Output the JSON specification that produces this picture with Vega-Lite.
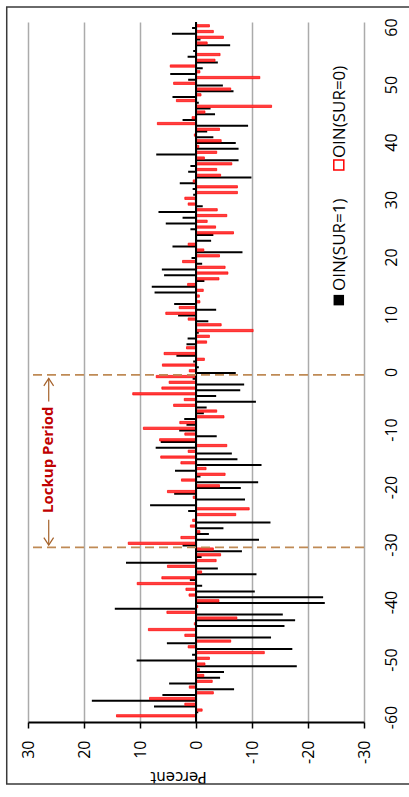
{
  "$schema": "https://vega.github.io/schema/vega-lite/v6.json",
  "width": 336,
  "height": 700,
  "autosize": {"type": "none"},
  "padding": {"left": 28, "top": 22, "right": 45, "bottom": 75},
  "background": "white",
  "config": {"view": {"stroke": null}, "font": "Open Sans"},
  "datasets": {
    "oin": [
      {"day": 60, "SUR1": 0.7, "SUR0": -2.4},
      {"day": 59, "SUR1": 4.3, "SUR0": -3.1},
      {"day": 58, "SUR1": -0.8, "SUR0": -4.9},
      {"day": 57, "SUR1": -6.1, "SUR0": -2.0},
      {"day": 56, "SUR1": 0.5, "SUR0": 0.0},
      {"day": 55, "SUR1": 1.5, "SUR0": -4.3},
      {"day": 54, "SUR1": -3.9, "SUR0": -3.4},
      {"day": 53, "SUR1": -1.2, "SUR0": 4.6},
      {"day": 52, "SUR1": 4.6, "SUR0": -0.7},
      {"day": 51, "SUR1": 1.4, "SUR0": -11.4},
      {"day": 50, "SUR1": -4.8, "SUR0": 4.0},
      {"day": 49, "SUR1": -6.7, "SUR0": -6.2},
      {"day": 48, "SUR1": 4.2, "SUR0": -0.9},
      {"day": 47, "SUR1": -0.5, "SUR0": 3.5},
      {"day": 46, "SUR1": -2.6, "SUR0": -13.5},
      {"day": 45, "SUR1": -3.4, "SUR0": -1.6},
      {"day": 44, "SUR1": 2.4, "SUR0": 0.7},
      {"day": 43, "SUR1": -9.3, "SUR0": 6.9},
      {"day": 42, "SUR1": -2.0, "SUR0": -4.2},
      {"day": 41, "SUR1": -3.1, "SUR0": 0.3},
      {"day": 40, "SUR1": -7.1, "SUR0": -4.5},
      {"day": 39, "SUR1": -7.6, "SUR0": -0.5},
      {"day": 38, "SUR1": 7.1, "SUR0": -3.7},
      {"day": 37, "SUR1": -7.6, "SUR0": -1.5},
      {"day": 36, "SUR1": 1.0, "SUR0": -6.4},
      {"day": 35, "SUR1": 1.4, "SUR0": -3.7},
      {"day": 34, "SUR1": -9.9, "SUR0": -4.4},
      {"day": 33, "SUR1": 2.9, "SUR0": 0.5},
      {"day": 32, "SUR1": 0.6, "SUR0": -7.4},
      {"day": 31, "SUR1": 0.5, "SUR0": -7.4},
      {"day": 30, "SUR1": 0.2, "SUR0": 2.0},
      {"day": 29, "SUR1": -1.2, "SUR0": 1.4},
      {"day": 28, "SUR1": 6.7, "SUR0": -3.8},
      {"day": 27, "SUR1": 2.4, "SUR0": -5.5},
      {"day": 26, "SUR1": 5.4, "SUR0": -2.0},
      {"day": 25, "SUR1": 1.0, "SUR0": -3.5},
      {"day": 24, "SUR1": -3.1, "SUR0": -6.7},
      {"day": 23, "SUR1": -2.7, "SUR0": 0.0},
      {"day": 22, "SUR1": 4.2, "SUR0": 1.4},
      {"day": 21, "SUR1": -8.3, "SUR0": -1.4},
      {"day": 20, "SUR1": 0.8, "SUR0": -4.2},
      {"day": 19, "SUR1": -1.1, "SUR0": 2.4},
      {"day": 18, "SUR1": 6.1, "SUR0": -5.2},
      {"day": 17, "SUR1": 5.7, "SUR0": -5.7},
      {"day": 16, "SUR1": -1.5, "SUR0": -4.1},
      {"day": 15, "SUR1": 7.9, "SUR0": 1.5},
      {"day": 14, "SUR1": 7.4, "SUR0": -1.3},
      {"day": 13, "SUR1": 0.0, "SUR0": -0.6},
      {"day": 12, "SUR1": 3.9, "SUR0": -0.7},
      {"day": 11, "SUR1": -3.6, "SUR0": 3.0},
      {"day": 10, "SUR1": 3.2, "SUR0": 5.4},
      {"day": 9, "SUR1": -2.2, "SUR0": 1.4},
      {"day": 8, "SUR1": 0.0, "SUR0": -4.5},
      {"day": 7, "SUR1": -0.5, "SUR0": -10.2},
      {"day": 6, "SUR1": 1.5, "SUR0": -2.4},
      {"day": 5, "SUR1": 1.7, "SUR0": -1.9},
      {"day": 4, "SUR1": 0.0, "SUR0": 1.7},
      {"day": 3, "SUR1": 3.5, "SUR0": 5.7},
      {"day": 2, "SUR1": 0.5, "SUR0": -1.5},
      {"day": 1, "SUR1": -0.5, "SUR0": 6.0},
      {"day": 0, "SUR1": -7.1, "SUR0": 1.2},
      {"day": -1, "SUR1": 0.6, "SUR0": 7.1},
      {"day": -2, "SUR1": -8.6, "SUR0": 4.8},
      {"day": -3, "SUR1": -7.9, "SUR0": 6.1},
      {"day": -4, "SUR1": -3.6, "SUR0": 11.3},
      {"day": -5, "SUR1": -10.7, "SUR0": 2.1},
      {"day": -6, "SUR1": -1.9, "SUR0": 4.0},
      {"day": -7, "SUR1": -1.4, "SUR0": -3.7},
      {"day": -8, "SUR1": 2.1, "SUR0": -5.0},
      {"day": -9, "SUR1": 1.7, "SUR0": 2.9},
      {"day": -10, "SUR1": 3.0, "SUR0": 9.4},
      {"day": -11, "SUR1": -3.7, "SUR0": 2.0},
      {"day": -12, "SUR1": 6.3, "SUR0": 6.5},
      {"day": -13, "SUR1": 7.2, "SUR0": -5.5},
      {"day": -14, "SUR1": -6.4, "SUR0": 1.4},
      {"day": -15, "SUR1": -7.4, "SUR0": 6.3},
      {"day": -16, "SUR1": -11.7, "SUR0": 2.7},
      {"day": -17, "SUR1": 3.75, "SUR0": -1.8},
      {"day": -18, "SUR1": -0.8, "SUR0": -5.2},
      {"day": -19, "SUR1": -11.1, "SUR0": 2.6},
      {"day": -20, "SUR1": -8.0, "SUR0": -4.2},
      {"day": -21, "SUR1": 3.9, "SUR0": 5.1},
      {"day": -22, "SUR1": -8.75, "SUR0": 0.5},
      {"day": -23, "SUR1": 8.2, "SUR0": 0.0},
      {"day": -24, "SUR1": 1.4, "SUR0": -9.5},
      {"day": -25, "SUR1": 0.0, "SUR0": -7.1},
      {"day": -26, "SUR1": -13.3, "SUR0": 0.6},
      {"day": -27, "SUR1": -4.9, "SUR0": 1.0},
      {"day": -28, "SUR1": -2.3, "SUR0": -0.7},
      {"day": -29, "SUR1": -11.25, "SUR0": 2.7},
      {"day": -30, "SUR1": 2.4, "SUR0": 12.1},
      {"day": -31, "SUR1": -8.2, "SUR0": -3.1},
      {"day": -32, "SUR1": -1.0, "SUR0": -4.4},
      {"day": -33, "SUR1": 12.5, "SUR0": -3.6},
      {"day": -34, "SUR1": -3.9, "SUR0": 5.1},
      {"day": -35, "SUR1": -10.8, "SUR0": -1.0},
      {"day": -36, "SUR1": 1.1, "SUR0": 6.1},
      {"day": -37, "SUR1": -1.1, "SUR0": 10.5},
      {"day": -38, "SUR1": -10.5, "SUR0": 1.8},
      {"day": -39, "SUR1": -22.7, "SUR0": 1.25},
      {"day": -40, "SUR1": -23.0, "SUR0": -4.1},
      {"day": -41, "SUR1": 14.5, "SUR0": -0.3},
      {"day": -42, "SUR1": -15.5, "SUR0": 5.2},
      {"day": -43, "SUR1": -17.7, "SUR0": -7.3},
      {"day": -44, "SUR1": -15.8, "SUR0": 0.3},
      {"day": -45, "SUR1": 0.0, "SUR0": 8.5},
      {"day": -46, "SUR1": -13.4, "SUR0": 2.0},
      {"day": -47, "SUR1": 5.2, "SUR0": -6.2},
      {"day": -48, "SUR1": -17.2, "SUR0": 1.4},
      {"day": -49, "SUR1": 0.7, "SUR0": -12.2},
      {"day": -50, "SUR1": 10.6, "SUR0": -2.4},
      {"day": -51, "SUR1": -18.0, "SUR0": -1.6},
      {"day": -52, "SUR1": -5.0, "SUR0": -0.6},
      {"day": -53, "SUR1": -4.3, "SUR0": -1.4},
      {"day": -54, "SUR1": 4.8, "SUR0": -2.9},
      {"day": -55, "SUR1": -6.8, "SUR0": 1.2},
      {"day": -56, "SUR1": 6.0, "SUR0": -3.1},
      {"day": -57, "SUR1": 18.6, "SUR0": 8.3},
      {"day": -58, "SUR1": 7.5, "SUR0": 2.0},
      {"day": -59, "SUR1": -0.4, "SUR0": -1.1},
      {"day": -60, "SUR1": 0.0, "SUR0": 14.2}
    ]
  },
  "layer": [
    {
      "data": {"name": "oin"},
      "mark": {"type": "bar", "orient": "horizontal", "height": 2, "yOffset": 1, "color": "#000000"},
      "encoding": {
        "y": {
          "field": "day", "type": "quantitative",
          "scale": {"domain": [-60, 60], "nice": false, "zero": false},
          "axis": {
            "orient": "right", "title": null,
            "values": [-60, -50, -40, -30, -20, -10, 0, 10, 20, 30, 40, 50, 60],
            "grid": false, "domain": false, "ticks": false, "tickSize": 0,
            "labelAngle": -90, "labelAlign": "center", "labelBaseline": "top",
            "labelPadding": 19, "labelFontSize": 16, "labelFont": "Open Sans", "labelColor": "#000000",
            "labelExpr": "'' + datum.value", "labelFlush": false, "labelOverlap": false, "labelBound": false
          }
        },
        "x": {
          "field": "SUR1", "type": "quantitative",
          "scale": {"domain": [-30, 30], "reverse": true, "nice": false, "zero": true},
          "axis": {
            "orient": "bottom", "title": "Percent",
            "values": [-30, -20, -10, 0, 10, 20, 30],
            "grid": true, "gridColor": "#ABABAB", "gridWidth": 1.5,
            "domain": true, "domainColor": "#000000", "domainWidth": 2,
            "ticks": true, "tickColor": "#000000", "tickWidth": 1.5, "tickSize": 6,
            "labelAngle": -90, "labelAlign": "right", "labelBaseline": "middle",
            "labelPadding": 12, "labelFontSize": 16, "labelFont": "Open Sans", "labelColor": "#000000",
            "labelExpr": "'' + datum.value", "labelFlush": false, "labelOverlap": false, "labelBound": false,
            "titleAngle": 180, "titleFont": "DejaVu Sans", "titleFontSize": 15, "titleFontWeight": "normal",
            "titleColor": "#000000", "titleX": 150, "titleY": 54, "titleAlign": "center", "titleBaseline": "middle"
          }
        }
      }
    },
    {
      "data": {"name": "oin"},
      "mark": {"type": "bar", "orient": "horizontal", "height": 2.3, "yOffset": -1.2, "fill": "#FF4040", "stroke": "#FF0000", "strokeWidth": 0.7},
      "encoding": {
        "y": {"field": "day", "type": "quantitative"},
        "x": {"field": "SUR0", "type": "quantitative"}
      }
    },
    {
      "data": {"values": [{}]},
      "mark": {"type": "rule", "color": "#000000", "strokeWidth": 2},
      "encoding": {"x": {"datum": 0, "type": "quantitative"}}
    },
    {
      "data": {"values": [{}]},
      "mark": {"type": "rule", "color": "#BF8A55", "strokeWidth": 1.7, "strokeDash": [9, 5]},
      "encoding": {"y": {"datum": -0.5, "type": "quantitative"}}
    },
    {
      "data": {"values": [{}]},
      "mark": {"type": "rule", "color": "#BF8A55", "strokeWidth": 1.7, "strokeDash": [9, 5]},
      "encoding": {"y": {"datum": -30.5, "type": "quantitative"}}
    },
    {
      "data": {"values": [{}]},
      "mark": {"type": "rule", "color": "#A5622B", "strokeWidth": 1.2},
      "encoding": {"x": {"datum": 26.3, "type": "quantitative"}, "y": {"datum": -1.1, "type": "quantitative"}, "y2": {"datum": -5.15}}
    },
    {
      "data": {"values": [{}]},
      "mark": {"type": "rule", "color": "#A5622B", "strokeWidth": 1.2},
      "encoding": {"x": {"datum": 26.3, "type": "quantitative"}, "y": {"datum": -25.71, "type": "quantitative"}, "y2": {"datum": -30.1}}
    },
    {
      "data": {"values": [{}]},
      "mark": {"type": "point", "shape": "M-0.65,1L0,0L0.65,1", "filled": false, "stroke": "#A5622B", "strokeWidth": 1.2, "size": 225, "opacity": 1},
      "encoding": {"x": {"datum": 26.3, "type": "quantitative"}, "y": {"datum": -1.1, "type": "quantitative"}}
    },
    {
      "data": {"values": [{}]},
      "mark": {"type": "point", "shape": "M-0.65,-1L0,0L0.65,-1", "filled": false, "stroke": "#A5622B", "strokeWidth": 1.2, "size": 225, "opacity": 1},
      "encoding": {"x": {"datum": 26.3, "type": "quantitative"}, "y": {"datum": -30.1, "type": "quantitative"}}
    },
    {
      "data": {"values": [{}]},
      "mark": {"type": "text", "text": "Lockup Period", "angle": 270, "align": "center", "baseline": "middle", "font": "Open Sans", "fontWeight": "bold", "fontSize": 15, "color": "#C00000"},
      "encoding": {"x": {"datum": 26.4, "type": "quantitative"}, "y": {"datum": -15.26, "type": "quantitative"}}
    },
    {
      "data": {"values": [{}]},
      "mark": {"type": "text", "text": "OIN(SUR=1)", "angle": 270, "align": "left", "baseline": "middle", "font": "Open Sans", "fontSize": 17, "color": "#000000"},
      "encoding": {"x": {"datum": -25.7, "type": "quantitative"}, "y": {"datum": 14.1, "type": "quantitative"}}
    },
    {
      "data": {"values": [{}]},
      "mark": {"type": "text", "text": "OIN(SUR=0)", "angle": 270, "align": "left", "baseline": "middle", "font": "Open Sans", "fontSize": 17, "color": "#000000"},
      "encoding": {"x": {"datum": -25.7, "type": "quantitative"}, "y": {"datum": 37.2, "type": "quantitative"}}
    },
    {
      "data": {"values": [{}]},
      "mark": {"type": "point", "shape": "square", "filled": true, "color": "#000000", "size": 110, "opacity": 1},
      "encoding": {"x": {"datum": -25.5, "type": "quantitative"}, "y": {"datum": 12.5, "type": "quantitative"}}
    },
    {
      "data": {"values": [{}]},
      "mark": {"type": "point", "shape": "square", "filled": false, "stroke": "#FF0000", "strokeWidth": 1.5, "size": 100, "opacity": 1},
      "encoding": {"x": {"datum": -25.5, "type": "quantitative"}, "y": {"datum": 36.0, "type": "quantitative"}}
    },
    {
      "data": {"values": [{}]},
      "mark": {"type": "rect", "filled": false, "stroke": "#3A3A3A", "strokeWidth": 1.5},
      "encoding": {
        "x": {"datum": 33.8, "type": "quantitative"}, "x2": {"datum": -38.5},
        "y": {"datum": 63.48, "type": "quantitative"}, "y2": {"datum": -71.66}
      }
    }
  ]
}
